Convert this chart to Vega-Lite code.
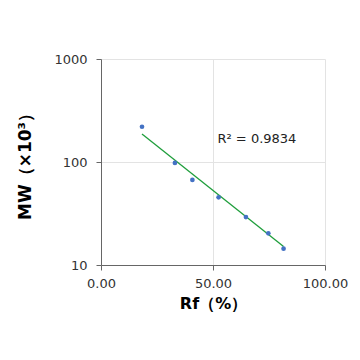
{
  "$schema": "https://vega.github.io/schema/vega-lite/v6.json",
  "width": 224,
  "height": 206,
  "autosize": "none",
  "padding": {"left": 101, "top": 59, "right": 35, "bottom": 95},
  "background": "white",
  "config": {
    "view": {"stroke": null},
    "font": "DejaVu Sans"
  },
  "datasets": {
    "pts": [
      {"Rf": 18.3, "MW": 220},
      {"Rf": 33.0, "MW": 98},
      {"Rf": 40.8, "MW": 67},
      {"Rf": 52.5, "MW": 45.4},
      {"Rf": 64.7, "MW": 29.2},
      {"Rf": 74.7, "MW": 20.3},
      {"Rf": 81.5, "MW": 14.4}
    ],
    "trend": [
      {"Rf": 18.3, "MW": 187},
      {"Rf": 81.5, "MW": 15.1}
    ],
    "ann": [{"Rf": 52, "MW": 168, "label": "R² = 0.9834"}]
  },
  "layer": [
    {
      "data": {"name": "trend"},
      "mark": {"type": "line", "color": "#1f9e3c", "strokeWidth": 1.3},
      "encoding": {
        "x": {"field": "Rf", "type": "quantitative"},
        "y": {"field": "MW", "type": "quantitative"}
      }
    },
    {
      "data": {"name": "pts"},
      "mark": {"type": "circle", "color": "#4472C4", "size": 22, "opacity": 1},
      "encoding": {
        "x": {
          "field": "Rf", "type": "quantitative",
          "scale": {"domain": [0, 100], "nice": false, "zero": false},
          "axis": {
            "values": [0, 50, 100], "format": ".2f",
            "title": "Rf（%）", "titleFontSize": 16, "titleFontWeight": "bold", "titleColor": "#000", "titlePadding": 5,
            "labelFontSize": 13, "labelColor": "#333", "labelPadding": 7,
            "domainColor": "#666", "tickColor": "#666", "tickSize": 5,
            "gridColor": "#e3e3e3", "labelFlush": false
          }
        },
        "y": {
          "field": "MW", "type": "quantitative",
          "scale": {"type": "log", "domain": [10, 1000], "nice": false},
          "axis": {
            "values": [10, 100, 1000], "format": "d",
            "title": "MW（×10³）", "titleFontSize": 17, "titleFontWeight": "bold", "titleColor": "#000", "titlePadding": 19,
            "labelFontSize": 13, "labelColor": "#333", "labelPadding": 9,
            "domainColor": "#666", "tickColor": "#666", "tickSize": 5,
            "gridColor": "#e3e3e3", "labelFlush": false
          }
        }
      }
    },
    {
      "data": {"name": "ann"},
      "mark": {"type": "text", "align": "left", "baseline": "middle", "fontSize": 13, "color": "#222"},
      "encoding": {
        "x": {"field": "Rf", "type": "quantitative"},
        "y": {"field": "MW", "type": "quantitative"},
        "text": {"field": "label"}
      }
    }
  ]
}
